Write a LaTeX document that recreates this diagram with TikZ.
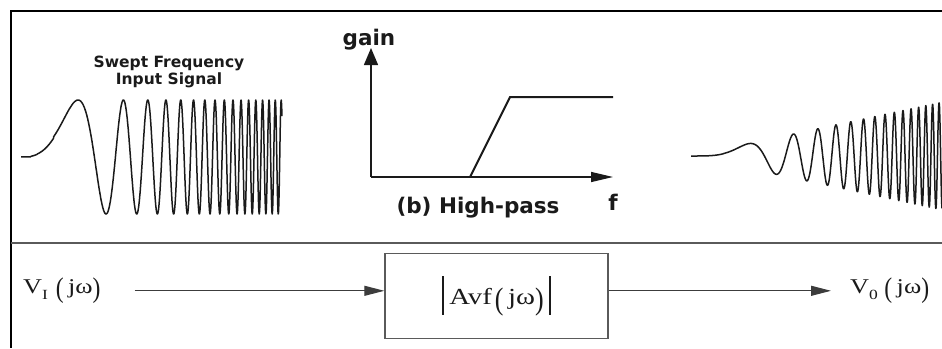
\documentclass[tikz,border=0pt]{standalone}
\usepackage{fontspec}
\setmainfont{Liberation Serif}
\newfontfamily\plotfont{DejaVu Sans}
\usetikzlibrary{positioning,arrows.meta}
\definecolor{ink}{HTML}{1A1A1A}
\definecolor{rulegray}{HTML}{5A5A5A}
\newcommand{\tallpar}[1]{\raisebox{-0.22em}{\scalebox{0.9}[1.35]{#1}}}
\newcommand{\sigbar}{\rule[-0.43em]{0.9pt}{1.7em}}
\newcommand{\widen}[1]{\scalebox{1.25}[1]{#1}}
\newcommand{\lowsub}[1]{\raisebox{-0.3em}{\fontsize{14}{14}\selectfont #1}}

\begin{document}
\begin{tikzpicture}[x=1pt,y=-1pt,
  plotlabel/.style={font={\plotfont\bfseries\fontsize{21.5}{22}\selectfont},text=ink,inner sep=0pt},
  sig/.style={font={\fontsize{21}{22}\selectfont},text=ink,inner sep=0pt},
  wave/.style={draw=ink,line width=1.5pt,line join=round},
  axis/.style={draw=ink,line width=1.4pt},
  flow/.style={draw=ink!85,line width=1.1pt,-{Triangle[length=20pt,width=10pt]}}]
\useasboundingbox (0,0) rectangle (942,348);
% frame and divider
\draw[line width=2pt] (942,11) -- (11,11) -- (11,348);
\draw[rulegray,line width=1.4pt] (11,243) -- (942,243);

% swept input
\node[font={\plotfont\bfseries\fontsize{15.5}{17}\selectfont},text=ink,inner sep=0pt,align=center] (sweep) at (169,71.5)
  {Swept Frequency\\Input Signal};
\draw[wave] plot[domain=0.0005:1,samples=1600,variable=\t] ({21+261*\t},{157-57*sin(5900*\t^2.75)});

% high-pass response
\draw[axis,-{Triangle[length=17pt,width=14pt]}] (371,177) -- (371,48);
\draw[axis,-{Triangle[length=22pt,width=10pt]}] (371,177) -- (613,177);
\draw[draw=ink,line width=2pt] (470,177) -- (510,97) -- (613,97);
\node[plotlabel,anchor=base] (gain) at (369,45) {gain};
\node[plotlabel,anchor=base] (fax) at (613,210) {f};
\node[plotlabel,anchor=base] (hp) at (478,213) {(b) High-pass};

% filtered output
\draw[wave] plot[domain=0.0005:0.9617,samples=1600,variable=\t] ({691+261*\t},{156-56*\t*sin(5900*\t^2.75)});

% block diagram
\node[sig,anchor=base west] (vin) at (23,293)
  {\widen{V\lowsub{I}\hspace{0.3em}\tallpar{(}\,jω\tallpar{)}}};
\node[draw=rulegray,line width=1.4pt,minimum width=223pt,minimum height=85pt,inner sep=0pt,
  font={\fontsize{23}{24}\selectfont},text=ink] (avf) at (496.5,296)
  {\widen{\sigbar\hspace{0.2em}Avf\hspace{0.1em}\tallpar{(}\,jω\tallpar{)}\hspace{0.2em}\sigbar}};
\node[sig,anchor=base west] (vout) at (850,293)
  {\widen{V\lowsub{0}\hspace{0.25em}\tallpar{(}\,jω\tallpar{)}}};
\draw[flow,shorten <=34pt] (vin.east) -- (vin.east -| avf.west);
\draw[flow,shorten >=19pt] (avf.east |- vout.west) -- (vout.west);
\end{tikzpicture}
\end{document}
